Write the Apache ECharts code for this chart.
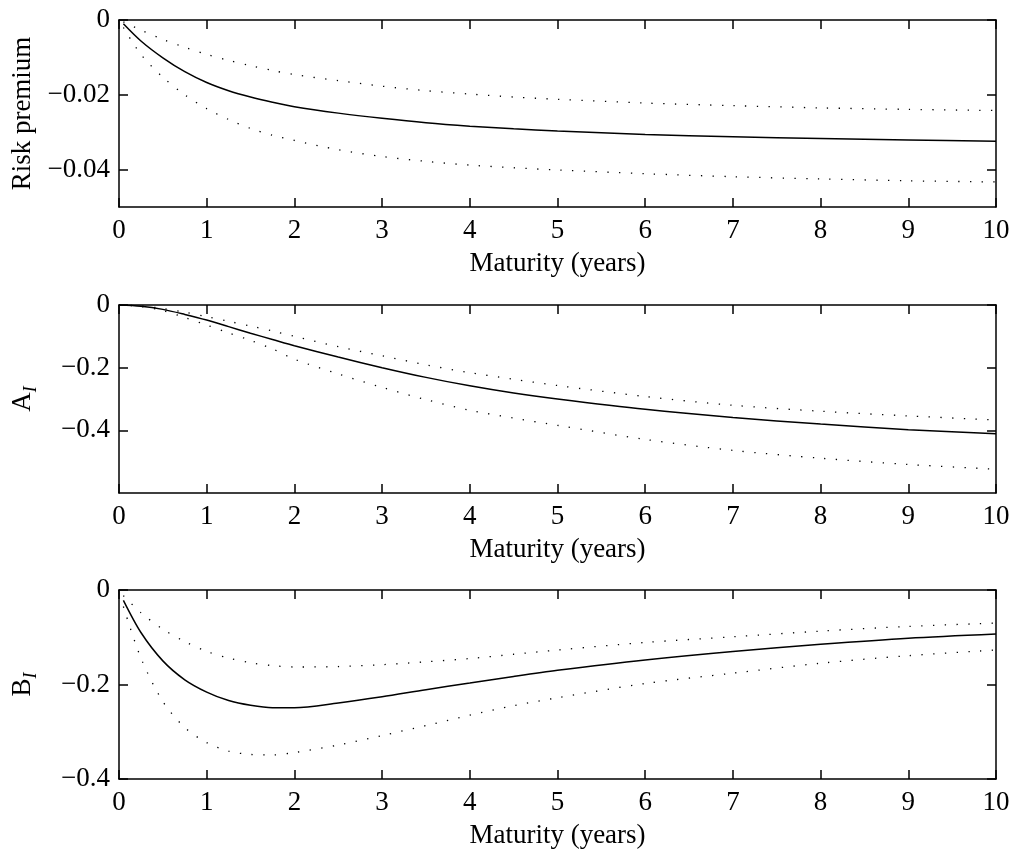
<!DOCTYPE html>
<html>
<head>
<meta charset="utf-8">
<script src="https://cdn.jsdelivr.net/npm/echarts@6/dist/echarts.min.js"></script>
<style>
html, body { margin: 0; padding: 0; background: #fff; }
#chart { width: 1014px; height: 850px; }
</style>
</head>
<body>
<div id="chart"></div>
<script>
// ---- data ----
const maturity = [0.05, 0.25, 0.5, 0.75, 1, 1.25, 1.5, 1.75, 2, 2.5, 3, 3.5, 4, 4.5, 5, 6, 7, 8, 9, 10];
const maturityA = [0, 0.25, 0.5, 0.75, 1, 1.25, 1.5, 1.75, 2, 2.5, 3, 3.5, 4, 4.5, 5, 6, 7, 8, 9, 10];

const riskPremiumMid   = [-0.0010, -0.0056, -0.0101, -0.0138, -0.0167, -0.0189, -0.0206, -0.0220, -0.0232, -0.0249, -0.0263, -0.0275, -0.0284, -0.0291, -0.0297, -0.0306, -0.0312, -0.0317, -0.0321, -0.0324];
const riskPremiumUpper = [-0.0005, -0.0027, -0.0052, -0.0073, -0.0092, -0.0108, -0.0122, -0.0135, -0.0146, -0.0162, -0.0177, -0.0189, -0.0198, -0.0206, -0.0212, -0.0222, -0.0229, -0.0235, -0.0239, -0.0242];
const riskPremiumLower = [-0.0020, -0.0092, -0.0153, -0.0200, -0.0237, -0.0266, -0.0290, -0.0308, -0.0322, -0.0347, -0.0365, -0.0378, -0.0388, -0.0395, -0.0401, -0.0411, -0.0419, -0.0425, -0.0430, -0.0433];

const aMid   = [0, -0.004, -0.014, -0.030, -0.048, -0.069, -0.090, -0.110, -0.130, -0.166, -0.200, -0.231, -0.258, -0.281, -0.300, -0.333, -0.359, -0.380, -0.398, -0.411];
const aUpper = [0, -0.003, -0.011, -0.023, -0.037, -0.052, -0.067, -0.083, -0.100, -0.133, -0.162, -0.191, -0.216, -0.237, -0.257, -0.292, -0.320, -0.339, -0.354, -0.367];
const aLower = [0, -0.005, -0.018, -0.040, -0.064, -0.089, -0.113, -0.140, -0.173, -0.220, -0.263, -0.302, -0.336, -0.361, -0.384, -0.429, -0.464, -0.489, -0.509, -0.524];

const bMid   = [-0.022, -0.090, -0.150, -0.190, -0.216, -0.234, -0.244, -0.249, -0.249, -0.239, -0.226, -0.211, -0.197, -0.183, -0.170, -0.148, -0.130, -0.115, -0.102, -0.093];
const bUpper = [-0.012, -0.048, -0.083, -0.109, -0.130, -0.144, -0.154, -0.160, -0.163, -0.162, -0.158, -0.152, -0.145, -0.136, -0.127, -0.111, -0.099, -0.087, -0.077, -0.070];
const bLower = [-0.035, -0.144, -0.236, -0.291, -0.323, -0.341, -0.348, -0.349, -0.344, -0.328, -0.308, -0.287, -0.265, -0.245, -0.228, -0.198, -0.176, -0.155, -0.139, -0.127];

const xTicks = [0, 1, 2, 3, 4, 5, 6, 7, 8, 9, 10];
const riskTicks = [0, -0.02, -0.04];
const aTicks = [0, -0.2, -0.4];
const bTicks = [0, -0.2, -0.4];
const xTitle = 'Maturity (years)';

// ---- layout ----
const FONT = 'Liberation Serif';
const FS = 27;
const panels = [
  { top: 20, height: 187, yMin: -0.05, ticks: riskTicks, name: 'Risk premium', gap: 83, x: maturity,
    mid: riskPremiumMid, up: riskPremiumUpper, lo: riskPremiumLower },
  { top: 305, height: 188, yMin: -0.6, ticks: aTicks, name: '{a|A}{s|I}', gap: 79, x: maturityA,
    mid: aMid, up: aUpper, lo: aLower },
  { top: 590, height: 189, yMin: -0.4, ticks: bTicks, name: '{a|B}{s|I}', gap: 79, x: maturity,
    mid: bMid, up: bUpper, lo: bLower }
];

const fmt = v => (v === 0 ? '0' : String(v).replace('-', '\u2212'));
const axisLine = { onZero: false, lineStyle: { color: '#000', width: 1.5 } };
const tickStyle = { lineStyle: { color: '#000', width: 1.5 } };

const grid = [], xAxis = [], yAxis = [], series = [];
panels.forEach((p, i) => {
  grid.push({ left: 119, right: 18, top: p.top, height: p.height, containLabel: false, outerBoundsMode: 'none' });
  xAxis.push({
    type: 'value', gridIndex: i, min: 0, max: 10, interval: 1, position: 'bottom',
    axisLine, axisTick: { inside: true, length: 9, customValues: xTicks, ...tickStyle },
    axisLabel: { customValues: xTicks, color: '#000', fontFamily: FONT, fontSize: FS, margin: 10, formatter: fmt },
    splitLine: { show: false },
    name: xTitle, nameLocation: 'middle', nameGap: 43,
    nameTextStyle: { color: '#000', fontFamily: FONT, fontSize: FS }
  });
  xAxis.push({
    type: 'value', gridIndex: i, min: 0, max: 10, interval: 1, position: 'top',
    axisLine, axisTick: { inside: true, length: 9, customValues: xTicks, ...tickStyle },
    axisLabel: { show: false }, splitLine: { show: false }
  });
  const rich = {
    a: { fontFamily: FONT, fontSize: FS, color: '#000', verticalAlign: 'top' },
    s: { fontFamily: FONT, fontSize: 18, fontStyle: 'italic', color: '#000', verticalAlign: 'top', padding: [13, 0, 0, 0] }
  };
  yAxis.push({
    type: 'value', gridIndex: i, min: p.yMin, max: 0, position: 'left',
    axisLine, axisTick: { inside: true, length: 9, customValues: p.ticks, ...tickStyle },
    axisLabel: { customValues: p.ticks, color: '#000', fontFamily: FONT, fontSize: FS, margin: 9, formatter: fmt },
    splitLine: { show: false },
    name: p.name, nameLocation: 'middle', nameRotate: 90, nameGap: p.gap,
    nameTextStyle: { color: '#000', fontFamily: FONT, fontSize: FS, rich }
  });
  yAxis.push({
    type: 'value', gridIndex: i, min: p.yMin, max: 0, position: 'right',
    axisLine, axisTick: { inside: true, length: 9, customValues: p.ticks, ...tickStyle },
    axisLabel: { show: false }, splitLine: { show: false }
  });
  const mk = (vals, dotted) => ({
    type: 'line', xAxisIndex: 2 * i, yAxisIndex: 2 * i,
    data: p.x.map((x, k) => [x, vals[k]]),
    showSymbol: false, smooth: 0.3, silent: true,
    lineStyle: dotted ? { color: '#000', width: 1.3, type: [1.3, 10.4] } : { color: '#000', width: 1.5 }
  });
  series.push(mk(p.up, true), mk(p.mid, false), mk(p.lo, true));
});

const chart = echarts.init(document.getElementById('chart'), null, { renderer: 'canvas' });
chart.setOption({ animation: false, backgroundColor: '#fff', grid, xAxis, yAxis, series });
</script>
</body>
</html>
